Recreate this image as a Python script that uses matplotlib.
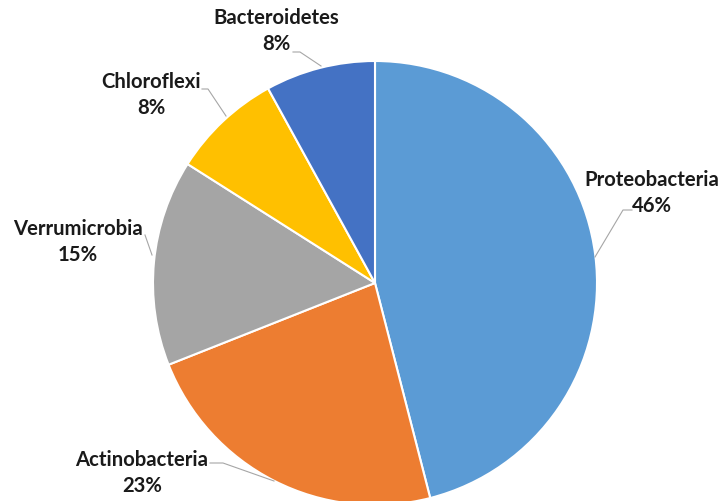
import matplotlib.pyplot as plt

phyla = ['Proteobacteria', 'Actinobacteria', 'Verrumicrobia', 'Chloroflexi', 'Bacteroidetes']
shares = [46, 23, 15, 8, 8]
colors = ['#5B9BD5', '#ED7D31', '#A5A5A5', '#FFC000', '#4472C4']

# label centres (name line, in pixel coords from top-left)
label_xy = [(652, 180), (142, 460), (78, 229), (151, 82), (276, 18)]
# leader lines, pixel coords from top-left
leaders = [
    [(632, 210), (623, 210), (595, 257)],
    [(210, 463), (223, 463), (274, 481)],
    [(145, 235), (152, 255)],
    [(202, 89), (208, 89), (226, 116)],
    [(293, 52), (300, 52), (321, 66)],
]

W, H = 720, 501
fig = plt.figure(figsize=(7.2, 5.01), dpi=100)
ax = fig.add_axes([0, 0, 1, 1])

ax.pie(shares, colors=colors, startangle=90, counterclock=False,
       center=(375, H - 283), radius=222, frame=True,
       wedgeprops=dict(edgecolor='white', linewidth=1.5))
ax.set_xlim(0, W)
ax.set_ylim(0, H)
ax.axis('off')

for pts in leaders:
    xs = [p[0] for p in pts]
    ys = [H - p[1] for p in pts]
    ax.plot(xs, ys, color='#A6A6A6', lw=0.8, clip_on=False)

for name, val, (x, y) in zip(phyla, shares, label_xy):
    ax.text(x, H - y, name, ha='center', va='center', fontsize=14.6,
            fontweight='bold', family='Lato', color='#1a1a1a')
    ax.text(x, H - y - 26, f'{val}%', ha='center', va='center', fontsize=14.6,
            fontweight='bold', family='Lato', color='#1a1a1a')

fig.savefig('out.png', dpi=100)
